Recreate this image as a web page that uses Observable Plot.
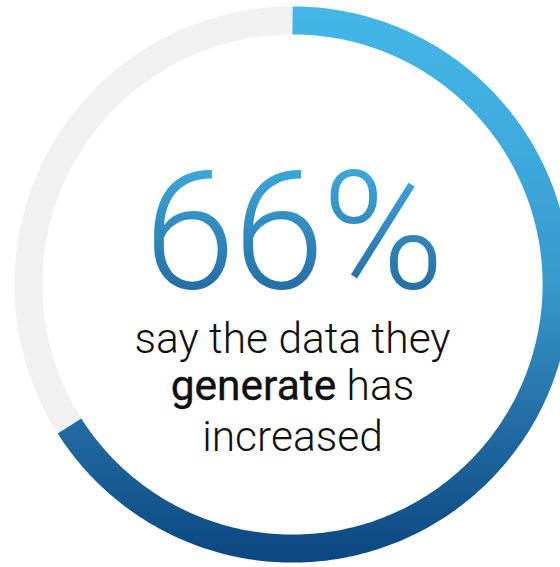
<!DOCTYPE html>
<html>
<head>
<meta charset="utf-8">
<script src="https://cdn.jsdelivr.net/npm/d3@7"></script>
<script src="https://cdn.jsdelivr.net/npm/@observablehq/plot@0.6"></script>
<style>
  html, body { margin: 0; padding: 0; background: #fff; overflow: hidden; }
  #chart { width: 560px; height: 567px; }
</style>
</head>
<body>
<div id="chart"></div>
<script>
// ---- data ----
const shareValue = 66;                 // percent who say data has increased
const restValue = 100 - shareValue;    // remainder
const segmentKeys = ["increased", "other"];
const segmentValues = [shareValue, restValue];
const bigLabel = "66%";
const line1 = "say the data they";
const boldWord = "generate";
const line2rest = "has";
const line3 = "increased";

// ---- styles ----
const ringGray = "#f1f1f1";
const ringStops = [[0, "#43b7e7"], [0.25, "#3eaadd"], [0.5, "#3799cc"], [0.77, "#2169a0"], [1, "#0b4680"]];
const numStops = [[0, "#43b7e7"], [1, "#1d5c94"]];
const ringRadius = 0.95;   // centre line of the ring, in unit coordinates
const ringWidth = 28;

// build arc sample points from the segment values
let acc = 0;
const segments = segmentKeys.map((k, i) => {
  const start = acc; acc += segmentValues[i];
  return {key: k, start, value: segmentValues[i]};
});
function arcPoints(seg) {
  const n = Math.max(2, Math.ceil(seg.value * 4));
  return d3.range(n + 1).map(j => {
    const a = 2 * Math.PI * (seg.start + seg.value * j / n) / 100;
    return {key: seg.key, x: ringRadius * Math.sin(a), y: ringRadius * Math.cos(a)};
  });
}
const bluePts = arcPoints(segments[0]);
const grayPts = arcPoints(segments[1]);

// measure line 2 parts so the mixed-weight line is centred
const ctx = document.createElement("canvas").getContext("2d");
const fs = 42.5;
ctx.font = `400 ${fs}px Roboto`;
const wGen = ctx.measureText(boldWord).width;
ctx.font = `300 ${fs}px Roboto`;
const wSp = ctx.measureText(" ").width;
const wHas = ctx.measureText(line2rest).width;
const total = wGen + wSp + wHas;

const plot = Plot.plot({
  width: 560,
  height: 567,
  margin: 0,
  x: {domain: [-1, 1], range: [14, 570], axis: null},
  y: {domain: [-1, 1], range: [562, 6], axis: null},
  style: {background: "transparent"},
  marks: [
    Plot.line(grayPts, {x: "x", y: "y", stroke: ringGray, strokeWidth: ringWidth, strokeLinecap: "butt", curve: "linear"}),
    Plot.line(bluePts, {x: "x", y: "y", stroke: "url(#ringGrad)", strokeWidth: ringWidth, strokeLinecap: "butt", curve: "linear"}),
    Plot.text([bigLabel], {x: () => 0, y: () => -0.014, text: d => d, lineAnchor: "bottom", textAnchor: "middle",
      fontFamily: "Roboto", fontWeight: 300, fontSize: 166, fill: "url(#numGrad)"}),
    Plot.text([line1], {x: () => 0, y: () => -0.245, text: d => d, lineAnchor: "bottom", textAnchor: "middle",
      fontFamily: "Roboto", fontWeight: 300, fontSize: fs, fill: "#111"}),
    Plot.text([boldWord], {x: () => 0, y: () => -0.414, text: d => d, lineAnchor: "bottom", textAnchor: "end",
      dx: -total / 2 + wGen, fontFamily: "Roboto", fontWeight: 400, fontSize: fs, fill: "#111",
      stroke: "#111", strokeWidth: 0.4}),
    Plot.text([line2rest], {x: () => 0, y: () => -0.414, text: d => d, lineAnchor: "bottom", textAnchor: "start",
      dx: -total / 2 + wGen + wSp, fontFamily: "Roboto", fontWeight: 300, fontSize: fs, fill: "#111"}),
    Plot.text([line3], {x: () => 0, y: () => -0.6, text: d => d, lineAnchor: "bottom", textAnchor: "middle",
      fontFamily: "Roboto", fontWeight: 300, fontSize: fs, fill: "#111"})
  ]
});

// gradients and tighter tracking on the big number
const svg = d3.select(plot);
svg.selectAll("text").filter(function() { return this.textContent === bigLabel; })
  .style("letter-spacing", "-3px");
const defs = svg.insert("defs", ":first-child");
const yScale = plot.scale("y");
const rg = defs.append("linearGradient").attr("id", "ringGrad")
  .attr("gradientUnits", "userSpaceOnUse")
  .attr("x1", 0).attr("x2", 0).attr("y1", yScale.range[1]).attr("y2", yScale.range[0]);
ringStops.forEach(([o, c]) => rg.append("stop").attr("offset", o).attr("stop-color", c));
const ng = defs.append("linearGradient").attr("id", "numGrad")
  .attr("x1", 0).attr("x2", 0).attr("y1", 0).attr("y2", 1);
numStops.forEach(([o, c]) => ng.append("stop").attr("offset", o).attr("stop-color", c));

document.getElementById("chart").appendChild(plot);
</script>
</body>
</html>
